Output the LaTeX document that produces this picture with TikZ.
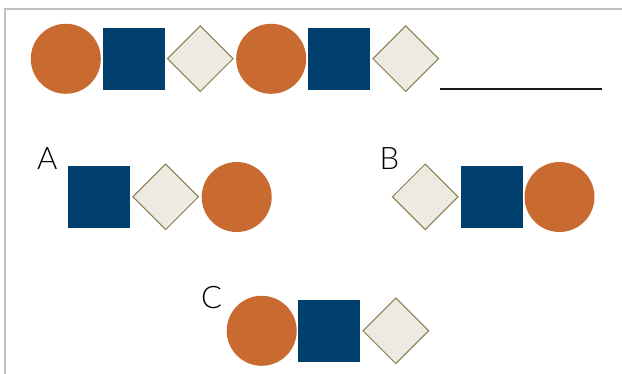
\documentclass[tikz,border=0pt]{standalone}
\usepackage{fontspec}
\setmainfont{Liberation Sans}
\newfontfamily\labfont{Lato Light}
\usetikzlibrary{shapes.geometric}
\definecolor{rust}{HTML}{C96B30}
\definecolor{navy}{HTML}{003F6E}
\definecolor{paper}{HTML}{ECEAE1}
\definecolor{olive}{HTML}{857F4B}
\definecolor{framegray}{HTML}{C0C0C0}
\tikzset{
  disc/.style={circle, fill=rust, draw=none, minimum size=70pt, inner sep=0pt, outer sep=0pt},
  sq/.style={rectangle, fill=navy, draw=none, minimum size=62pt, inner sep=0pt, outer sep=0pt},
  dia/.style={diamond, aspect=1, fill=paper, draw=olive, line width=1pt, minimum size=66pt, inner sep=0pt},
  lab/.style={anchor=base west, inner sep=0pt, font=\labfont\fontsize{31pt}{31pt}\selectfont, text=black},
}
\begin{document}
\begin{tikzpicture}[x=1pt,y=-1pt]
\useasboundingbox (0,0) rectangle (622,374);
% frame
\coordinate (ftr) at (622,9);
\coordinate (ftl) at (5,9);
\coordinate (fbl) at (5,374);
\draw[framegray, line width=1.2pt] (ftr) -- (ftl) -- (fbl);
% top row
\node[disc] (c1) at (65.8,58.8) {};
\node[sq]   (s1) at (134,58.8) {};
\node[dia]  (d1) at (200.3,58.7) {};
\node[disc] (c2) at (271.2,58.8) {};
\node[sq]   (s2) at (339,58.8) {};
\node[dia]  (d2) at (405.7,58.7) {};
\coordinate (l1) at (440,89);
\coordinate (l2) at (602,89);
\draw[black!90, line width=1.5pt] (l1) -- (l2);
% A
\node[lab] (la) at (37,170) {A};
\node[sq]   (sa) at (99,196.8) {};
\node[dia]  (da) at (165.7,196.8) {};
\node[disc] (ca) at (236.7,197) {};
% B
\node[lab] (lb) at (379.5,170) {B};
\node[dia]  (db) at (425.2,196.8) {};
\node[sq]   (sb) at (492,196.8) {};
\node[disc] (cb) at (559.5,197) {};
% C
\node[lab] (lc) at (201,308.5) {C};
\node[disc] (cc) at (261.7,330.8) {};
\node[sq]   (sc) at (329,330.8) {};
\node[dia]  (dc) at (395.8,330.8) {};
\end{tikzpicture}
\end{document}
